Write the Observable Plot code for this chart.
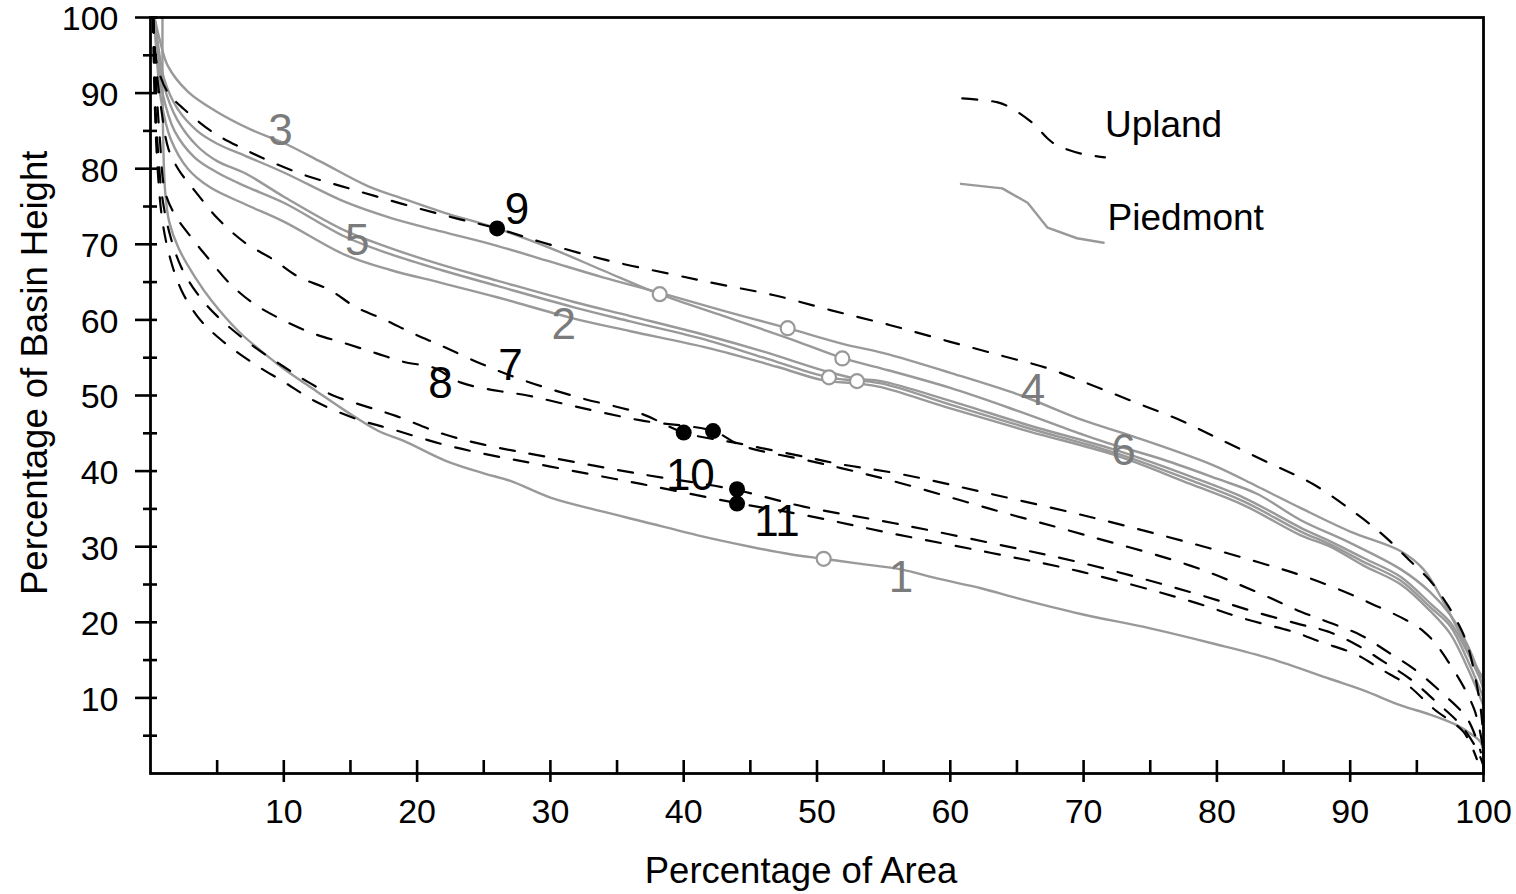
<!DOCTYPE html>
<html>
<head>
<meta charset="utf-8">
<script src="https://cdn.jsdelivr.net/npm/d3@7"></script>
<script src="https://cdn.jsdelivr.net/npm/@observablehq/plot@0.6"></script>
<style>
  html, body { margin: 0; padding: 0; background: #fff; }
  #chart svg { display: block; }
</style>
</head>
<body>
<div id="chart"></div>
<script>
// ---------- DATA ----------
// Piedmont curves (solid gray)
const curve1 = [[0.9,100],[0.9,92],[0.95,84],[1.1,77],[1.4,73],[2.1,69.5],[3.4,65.5],[4.6,62.5],[6.6,58.5],[8.5,55.6],[10.1,53.4],[12.5,50.5],[14.6,48],[17.1,45.3],[19,44],[22.1,41.4],[25,39.7],[27,38.7],[30,36.5],[33.8,34.7],[37,33.3],[41.3,31.4],[45,30],[48,29],[50.5,28.4],[53,27.8],[56.3,27],[59,25.8],[62.3,24.5],[65,23.2],[69.8,21.1],[75,19.2],[79.7,17.2],[84,15.2],[88.5,12.5],[91,11],[93.8,9],[96,7.8],[98,6.4],[99,5.3],[99.8,4.1],[100,1.5]];
const curve2 = [[0.3,100],[0.5,95],[0.9,90],[1.8,85],[3.3,81.5],[5,79.5],[7.1,77.7],[10,75.5],[14.6,71],[18,68.7],[21.8,66.6],[26,64.5],[31.7,61.7],[36,59.8],[41.8,57.3],[46,55],[50.9,52.4],[54.8,51.6],[60,48.8],[66,45.6],[72.2,42.5],[78,38.8],[82,36],[86.3,32],[88.5,30.3],[91,28],[93.8,25.5],[96,22],[97.5,19.5],[98.8,15],[100,10]];
const curve3 = [[0.3,100],[0.7,97],[1.3,93.6],[2.8,90.2],[5,87.5],[7.5,85.2],[10,83.4],[12.8,80.9],[16.3,77.7],[19,76],[22,74.2],[26,72.1],[30,69.5],[34,66.5],[38.2,63.4],[43,60.5],[47.8,57.6],[52,54.9],[54.8,53.6],[60,51],[65,48],[70,44.8],[72.2,43.5],[76,41.5],[80,39],[83,37],[86.3,33.5],[90,30.5],[93.8,27],[96,24],[97.5,21],[98.8,17],[99.5,14],[100,11]];
const curve4 = [[0.3,100],[0.6,96],[1,92],[2,88],[3.5,85],[5,83.3],[7.1,81.7],[10,79.5],[14.6,75.6],[18,73.5],[21.8,71.7],[26,69.8],[30,67.7],[34,65.6],[38.2,63.6],[43,61.2],[47.8,58.9],[52,56.8],[55,55.6],[60,53],[65.3,50],[70,46.7],[73.7,44.6],[79.7,40.8],[83,38],[86.3,35.1],[90,32],[93.8,29.4],[95.5,27],[97,22.7],[98.8,16.5],[99.5,14],[100,12.5]];
const curve5 = [[0.3,100],[0.6,95],[1,91],[2,86.5],[3.5,83],[5,81],[7.1,79.4],[10,76.3],[14.6,71.8],[18,69.5],[21.8,67.3],[26,65.2],[31.7,62.4],[36,60.5],[41.8,57.9],[46,55.8],[50.5,53.3],[53,52.2],[54.8,51.9],[60,49.3],[66,46],[72.2,42.9],[78,39.3],[82,36.5],[86.3,32.5],[88.5,30.7],[91,28.5],[93.8,26],[96,22.5],[97.5,20],[98.8,16],[100,11.5]];
const curve6 = [[0.3,100],[0.5,94],[0.8,89],[1.5,84],[2.8,80],[4.5,77.5],[7.1,75.3],[10,73],[14.6,68.6],[18,66.6],[21.8,64.9],[26,63],[31.7,60.2],[36,58.5],[41.8,56.3],[47,53.8],[50.5,52],[53,51.6],[54.8,51.1],[60,48.3],[66,45.2],[72.2,42.2],[78,38.3],[82,35.5],[86.3,31.5],[88.5,30],[91,27.5],[93.8,25],[96,21.5],[97.5,18.5],[98.8,14],[100,9]];
// Upland curves (black dashed)
const curve7 = [[0.2,100],[0.4,94],[0.8,88],[1.35,82.6],[2.1,79.9],[3.4,76.9],[5.1,73.3],[7.1,70.2],[9.2,68],[11.1,65.7],[13.4,64],[15.4,61.7],[17.6,60],[19.7,58.2],[21.8,56.6],[24.8,54.2],[28,52],[32,49.8],[36.8,47.6],[40,45.1],[44.3,43.6],[49.3,41.8],[51.8,40.9],[56.3,39.6],[63,37],[70.8,33.8],[78,30.5],[83,28],[87,25.8],[91.3,22.7],[95.5,18.8],[97.5,14.4],[99.3,8.5],[100,3]];
const curve8 = [[0.2,100],[0.4,92],[0.7,84],[1.1,76.9],[1.9,73.7],[3.2,70.6],[4.4,68],[5.9,64.9],[7.7,62.2],[9.9,60],[12.2,58.2],[14.6,56.9],[16.9,55.6],[19.1,54.4],[21.2,53.7],[23.3,51.7],[26.8,50.4],[28,50.1],[32,48.5],[36.8,46.7],[42.2,45.3],[44.3,43.4],[49.3,41.4],[51.8,40.4],[56.3,38.4],[63,35],[70,31.6],[78,27.5],[83,24],[86.3,21.4],[88.7,19.8],[90.8,18.3],[92.8,16.1],[94.8,13.8],[96.8,10.8],[98.8,7.2],[99.8,2.8]];
const curve9 = [[0.2,100],[0.3,96],[0.6,93],[1.3,90.1],[2.5,87.9],[4.7,84.8],[7,82.6],[9.2,80.8],[11.8,79],[14.3,77.7],[17,76.3],[20,74.8],[23,73.4],[26,72.1],[29.3,70.3],[34,68],[39.2,66],[43,64.6],[46.7,63.3],[51,61.3],[55.5,59.3],[60,57.1],[64,55.2],[67.3,53.6],[70,51.8],[74,49],[77.3,46.7],[80,44.4],[84,41],[87.2,38.3],[90.5,34.3],[92.5,31.5],[94.5,28.1],[96,25.5],[97.3,22.3],[98.2,19.5],[98.8,17],[99.5,11.7],[99.9,6.8],[100,2]];
const curve10 = [[0.2,100],[0.3,92],[0.5,84],[0.9,76],[1.5,71],[2.3,67],[3.5,63.5],[5,60.5],[7.5,56.8],[10,53.8],[12,51.6],[13.7,50],[15.9,48.7],[18.4,47.3],[21.8,45],[25,43.5],[30,41.8],[36.8,39.6],[43.7,37.6],[49,35.3],[55.8,33.1],[63,30.5],[70,27.8],[78,24],[83,21.3],[86.3,19.7],[88.3,18.8],[90.5,17],[92.5,14.8],[94.5,12.5],[96.5,9.4],[98.3,6.4],[99.5,3.2],[100,1]];
const curve11 = [[0.2,100],[0.3,90],[0.5,81],[0.9,73],[1.5,68],[2.3,64],[3.5,60.5],[5,57.8],[7.5,54.5],[10,51.8],[12.5,49.1],[15.6,46.8],[18.2,45.5],[21.8,43.6],[25,42.3],[30,40.6],[36.8,38.3],[43.9,35.8],[49,34.2],[55.5,31.8],[63,29.2],[69.8,26.7],[78,22.8],[82,20.5],[85.8,18.7],[87.8,17.4],[90.5,15.7],[92.3,13.8],[94.3,11.7],[96.3,8.5],[98.5,5.5],[99.5,1.9]];

const piedmontIds = ["1","2","3","4","5","6"];
const uplandIds = ["7","8","9","10","11"];

// open circles (Piedmont) and filled dots (Upland)
const openCircles = [[38.2,63.4],[47.8,58.9],[51.9,54.9],[50.9,52.4],[53.0,51.9],[50.5,28.4]];
const filledDots = [[26.0,72.1],[40.0,45.1],[42.2,45.3],[44.0,37.6],[44.0,35.7]];

// curve number labels
const labelIds = ["3","9","5","2","7","8","4","6","10","11","1"];
const labelX   = [9.75,27.5,15.5,31.0,27.0,21.75,66.2,73.0,40.5,47.0,56.3];
const labelY   = [85.0,74.6,70.5,59.3,53.9,51.5,50.6,42.7,39.4,33.3,25.9];

// legend key shapes
const legendUpland   = [[60.9,89.3],[63.5,88.8],[64.5,88.1],[66.2,86.0],[67.3,84.0],[68.0,83.1],[69.8,82.0],[71.6,81.5]];
const legendPiedmont = [[60.8,78.0],[63.9,77.4],[65.8,75.5],[67.3,72.2],[69.5,70.8],[71.5,70.2]];
const legendNames = ["Upland","Piedmont"];
const legendTextX = [71.6, 71.8];
const legendTextY = [85.8, 73.5];

// axes
const majorTicks = [10,20,30,40,50,60,70,80,90,100];
const minorTicks = [5,15,25,35,45,55,65,75,85,95];
const xTitle = "Percentage of Area";
const yTitle = "Percentage of Basin Height";

// ---------- BUILD ----------
const allCurves = {"1":curve1,"2":curve2,"3":curve3,"4":curve4,"5":curve5,"6":curve6,
  "7":curve7,"8":curve8,"9":curve9,"10":curve10,"11":curve11};
const rows = ids => ids.flatMap(id => allCurves[id].map(([x,y]) => ({id, x, y})));
const pied = rows(piedmontIds), upl = rows(uplandIds);
const labels = labelIds.map((id,i) => ({id, x: labelX[i], y: labelY[i], up: uplandIds.includes(id)}));
const toXY = a => a.map(([x,y]) => ({x,y}));
const legendText = legendNames.map((t,i) => ({t, x: legendTextX[i], y: legendTextY[i]}));

const GRAY = "#999999", LABELGRAY = "#7b7b7b";
const FONT = "'Liberation Sans', Arial, Helvetica, sans-serif";

const chart = Plot.plot({
  width: 1516, height: 894,
  marginLeft: 150, marginRight: 33, marginTop: 17, marginBottom: 121,
  x: {domain: [0,100], axis: null},
  y: {domain: [0,100], axis: null},
  style: {fontFamily: FONT, background: "#fff", overflow: "visible"},
  marks: [
    Plot.line(pied, {x: "x", y: "y", z: "id", stroke: GRAY, strokeWidth: 2.4, curve: "catmull-rom", strokeLinejoin: "round"}),
    Plot.line(upl, {x: "x", y: "y", z: "id", stroke: "#000", strokeWidth: 2.2, strokeDasharray: "15,15", curve: "catmull-rom"}),
    Plot.dot(toXY(openCircles), {x: "x", y: "y", r: 7, stroke: GRAY, strokeWidth: 2.2, fill: "#fff"}),
    Plot.dot(toXY(filledDots), {x: "x", y: "y", r: 8, fill: "#000", stroke: "none"}),
    Plot.text(labels, {x: "x", y: "y", text: "id", fontSize: 44, fill: d => d.up ? "#000" : LABELGRAY}),
    // legend
    Plot.line(toXY(legendUpland), {x: "x", y: "y", stroke: "#000", strokeWidth: 2.2, strokeDasharray: "15,15", curve: "catmull-rom"}),
    Plot.line(toXY(legendPiedmont), {x: "x", y: "y", stroke: GRAY, strokeWidth: 2.4}),
    Plot.text(legendText, {x: "x", y: "y", text: "t", textAnchor: "start", fontSize: 37, fill: "#000"}),
    // frame
    Plot.frame({stroke: "#000", strokeWidth: 2.8}),
    // ticks
    Plot.ruleX(majorTicks, {x: d => d, y1: 0, y2: 0, insetTop: 9, insetBottom: 13, stroke: "#000", strokeWidth: 2.6}),
    Plot.ruleX(minorTicks, {x: d => d, y1: 0, y2: 0, insetTop: 0, insetBottom: 13, stroke: "#000", strokeWidth: 2.6}),
    Plot.ruleY(majorTicks, {y: d => d, x1: 0, x2: 0, insetLeft: -15, insetRight: -7, stroke: "#000", strokeWidth: 2.6}),
    Plot.ruleY(minorTicks, {y: d => d, x1: 0, x2: 0, insetLeft: -7, insetRight: -7, stroke: "#000", strokeWidth: 2.6}),
    // tick labels
    Plot.text(majorTicks, {x: d => d, y: 0, dy: 39, text: d => String(d), fontSize: 34, fill: "#000"}),
    Plot.text(majorTicks, {y: d => d, x: 0, dx: -32, dy: 2, text: d => String(d), textAnchor: "end", fontSize: 34, fill: "#000"}),
    // axis titles
    Plot.text([xTitle], {x: 48.8, y: 0, dy: 98, text: d => d, fontSize: 36.5, fill: "#000"}),
    Plot.text([yTitle], {x: 0, y: 53, dx: -115, text: d => d, rotate: -90, fontSize: 36.5, fill: "#000"})
  ]
});
document.getElementById("chart").appendChild(chart);
</script>
</body>
</html>
